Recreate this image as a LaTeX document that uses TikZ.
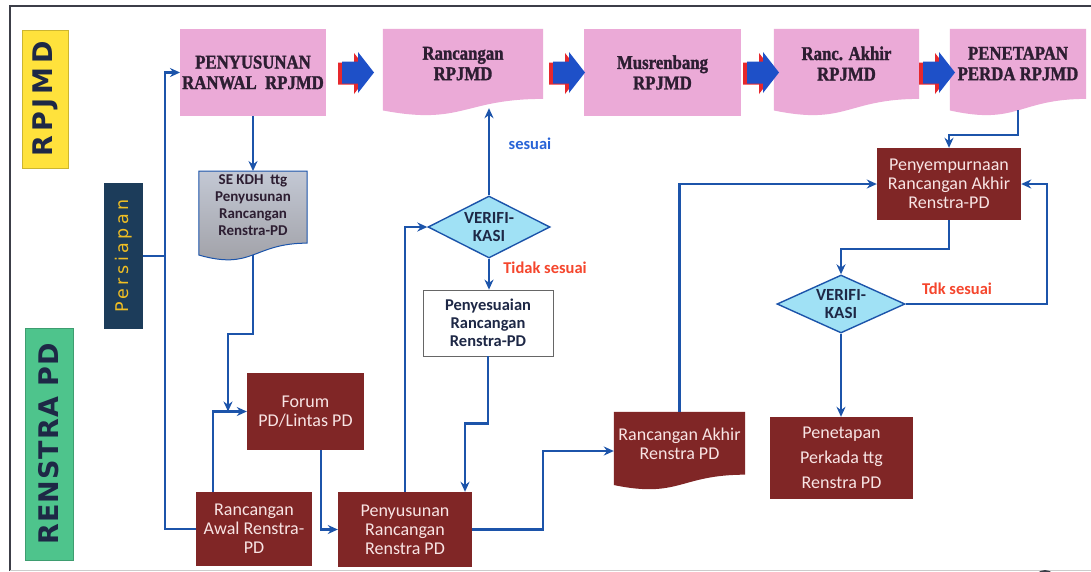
\documentclass[tikz,border=0pt]{standalone}
\usepackage{fontspec}
\setmainfont{Carlito}
\newfontfamily\pinkfont[FakeStretch=0.86, BoldFeatures={FakeBold=1.5}]{Liberation Serif}
\newfontfamily\lanefont{DejaVu Sans}
\usepackage{tikz}
\usetikzlibrary{calc}
\usetikzlibrary{shapes,arrows}
\usetikzlibrary{arrows.meta,backgrounds}

\definecolor{pinkfill}{RGB}{235,170,215}
\definecolor{pinktext}{RGB}{45,30,50}
\definecolor{darkred}{RGB}{128,38,38}
\definecolor{redtext}{RGB}{248,228,228}
\definecolor{connblue}{RGB}{28,84,170}
\definecolor{cyanfill}{RGB}{160,225,245}
\definecolor{arrowblue}{RGB}{30,80,200}
\definecolor{arrowred}{RGB}{230,40,45}
\definecolor{yesblue}{RGB}{40,100,215}
\definecolor{nored}{RGB}{245,70,45}
\definecolor{navy}{RGB}{28,60,90}
\definecolor{laneyellow}{RGB}{255,226,60}
\definecolor{lanegreen}{RGB}{78,196,140}
\definecolor{lanetext}{RGB}{30,40,70}
\definecolor{prepyellow}{RGB}{240,190,35}
\definecolor{graytop}{RGB}{195,200,212}
\definecolor{graybottom}{RGB}{158,158,164}
\definecolor{framegray}{RGB}{60,62,72}

% document outline with a wavy bottom, around a named node
\newcommand{\docpath}[1]{(#1.north west) -- (#1.north east)
  -- ($(#1.north east)!0.802!(#1.south east)$)
  .. controls ($(#1.north)!0.802!(#1.south)$) and ($(#1.north)!1.1075!(#1.south)$)
  .. ($(#1.north west)!0.934!(#1.south west)$) -- cycle}

\begin{document}
\begin{tikzpicture}[x=1pt,y=-1pt,>={Stealth[length=10pt,width=9pt]},
    pinknode/.style={rectangle, minimum height=87, inner sep=2pt, align=center, text=pinktext, font=\pinkfont\bfseries\fontsize{19.5}{20.5}\selectfont},
    rednode/.style={rectangle, inner sep=2pt, align=center, text=redtext, font=\fontsize{18}{19}\selectfont},
    decisionnode/.style={diamond, aspect=2, fill=cyanfill, draw=connblue, line width=1.4pt, inner sep=0pt, align=center, text=lanetext, font=\bfseries\fontsize{17}{17.5}\selectfont},
    lanenode/.style={rectangle, rotate=90, draw=#1!80!black, fill=#1, line width=0.8pt, text=lanetext, font=\lanefont\bfseries\fontsize{27}{30}\selectfont},
    flowline/.style={draw=connblue, line width=2.2pt},
    labeltext/.style={font=\bfseries\fontsize{16.5}{18}\selectfont, text=#1}
    ]
  \useasboundingbox (0,0) rectangle (1091,571);
  \begin{scope}[on background layer]
    \fill[white] (0,0) rectangle (1091,571);
  \end{scope}
  % frame
  \draw[framegray, line width=2.5pt] (10,571) -- (10,6) -- (1091,6);
  \draw[gray!40, line width=0.8pt] (10,570) -- (1091,570);
  \fill[framegray] (1045,581) circle (11);

  % lanes
  \node[lanenode=laneyellow, minimum width=138, minimum height=46] (LaneRPJMD) at (45,99) {\addfontfeature{LetterSpace=14}RPJMD};
  \node[lanenode=lanegreen, minimum width=232, minimum height=48] (LaneRenstra) at (49,444) {\addfontfeature{LetterSpace=4}RENSTRA PD};
  \node[rectangle, rotate=90, fill=navy, text=prepyellow, minimum width=146, minimum height=39, font=\lanefont\fontsize{17.5}{20}\selectfont] (Persiapan) at (123.5,256) {\addfontfeature{LetterSpace=20}Persiapan};

  % nodes RPJMD
  \node[pinknode, fill=pinkfill, minimum width=134] (PenyusunanRanwal) at (253,72.5) {PENYUSUNAN\\RANWAL~ RPJMD};
  \node[pinknode, minimum width=160, text depth=18pt] (RancanganRPJMD) at (463,72.5) {Rancangan\\RPJMD};
  \node[pinknode, fill=pinkfill, minimum width=157] (Musrenbang) at (662.5,72.5) {Musrenbang\\RPJMD};
  \node[pinknode, minimum width=145, text depth=18pt] (RancAkhirRPJMD) at (846.5,72.5) {Ranc. Akhir\\RPJMD};
  \node[pinknode, minimum width=136, text depth=18pt] (PenetapanPerda) at (1018,72.5) {PENETAPAN\\PERDA RPJMD};
  % block arrows between the stages
  \foreach \ax in {358,569,763,939} {
    \fill[arrowred, shift={(-4,1)}] (\ax-16,61.5) -- (\ax,61.5) -- (\ax,52) -- (\ax+16,72.5) -- (\ax,93) -- (\ax,83.5) -- (\ax-16,83.5) -- cycle;
    \fill[arrowblue] (\ax-16,61.5) -- (\ax,61.5) -- (\ax,52) -- (\ax+16,72.5) -- (\ax,93) -- (\ax,83.5) -- (\ax-16,83.5) -- cycle;
  }

  % nodes RENSTRA PD
  \node[rectangle, minimum width=108, minimum height=88, text depth=22pt, align=center, text=pinktext, font=\bfseries\fontsize{15}{17}\selectfont] (SEKDH) at (253,216) {SE KDH~ ttg\\Penyusunan\\Rancangan\\Renstra-PD};
  \node[decisionnode, minimum width=122, minimum height=62] (Verif1) at (489,227) {VERIFI-\\KASI};
  \node[rectangle, draw=gray!80!black, line width=0.8pt, fill=white, minimum width=130, minimum height=66, align=center, text=lanetext, font=\bfseries\fontsize{16.5}{18}\selectfont] (Penyesuaian) at (488,323) {Penyesuaian\\Rancangan\\Renstra-PD};
  \node[rednode, fill=darkred, minimum width=117, minimum height=77] (Forum) at (305.5,411.5) {Forum\\PD/Lintas PD};
  \node[rednode, fill=darkred, minimum width=116, minimum height=74] (RancanganAwal) at (254,529) {Rancangan\\Awal Renstra-\\PD};
  \node[rednode, fill=darkred, minimum width=134, minimum height=75] (PenyusunanRenstra) at (405,529.5) {Penyusunan\\Rancangan\\Renstra PD};
  \node[rednode, minimum width=131, minimum height=78, text depth=14pt] (RancAkhirRenstra) at (679.5,451) {Rancangan Akhir\\Renstra PD};
  \node[rednode, fill=darkred, minimum width=144, minimum height=72] (Penyempurnaan) at (949,184) {Penyempurnaan\\Rancangan Akhir\\Renstra-PD};
  \node[decisionnode, minimum width=128, minimum height=58] (Verif2) at (841,304) {VERIFI-\\KASI};
  \node[rednode, fill=darkred, minimum width=143, minimum height=82, font=\fontsize{18}{25}\selectfont] (PenetapanPerkada) at (841.5,458) {Penetapan\\Perkada ttg\\Renstra PD};
  \node[labeltext=yesblue] (Sesuai) at (530,144) {sesuai};
  \node[labeltext=nored] (TidakSesuai) at (545,268) {Tidak sesuai};
  \node[labeltext=nored] (TdkSesuai) at (957,289) {Tdk sesuai};

  % document shapes
  \begin{scope}[on background layer]
    \fill[pinkfill] \docpath{RancanganRPJMD};
    \fill[pinkfill] \docpath{RancAkhirRPJMD};
    \fill[pinkfill] \docpath{PenetapanPerda};
    \shade[top color=graytop, bottom color=graybottom] \docpath{SEKDH};
    \draw[connblue, line width=1pt] \docpath{SEKDH};
    \fill[darkred] \docpath{RancAkhirRenstra};
  \end{scope}

  % arrows
  \coordinate (LeftBus) at (165,72.5);
  \coordinate (ForumJoin) at (228,411.5);
  \draw[flowline] (Persiapan.south) -- (Persiapan.south -| LeftBus);
  \draw[flowline,->] (RancanganAwal.west) -| (LeftBus) -- (PenyusunanRanwal.west);
  \draw[flowline,->] (PenyusunanRanwal.south) -- (SEKDH.north);
  \draw[flowline,->] ($(SEKDH.south)+(0,-6)$) -- ++(0,79) -| (ForumJoin);
  \draw[flowline,->] ($(RancanganAwal.north west)+(17,0)$) |- (Forum.west);
  \draw[flowline,->] ($(Forum.south)+(15.5,0)$) |- (PenyusunanRenstra.west);
  \draw[flowline,->] (PenyusunanRenstra.north) |- (Verif1.west);
  \draw[flowline,->] (Verif1.north) -- ($(Verif1.north |- RancanganRPJMD.south)+(0,-8)$);
  \draw[flowline,->] (Verif1.south) -- (Verif1.south |- Penyesuaian.north);
  \draw[flowline,->] (Penyesuaian.south) -- ++(0,67) -| ($(PenyusunanRenstra.north)+(60,0)$);
  \draw[flowline,->] (PenyusunanRenstra.east) -- ++(71,0) |- (RancAkhirRenstra.west);
  \draw[flowline,->] (RancAkhirRenstra.north) |- (Penyempurnaan.west);
  \draw[flowline,->] ($(PenetapanPerda.south)+(0,-6)$) -- ++(0,25) -| (Penyempurnaan.north);
  \draw[flowline,->] (Penyempurnaan.south) -- ++(0,29) -| (Verif2.north);
  \draw[flowline,->] (Verif2.east) -- ++(141,0) |- (Penyempurnaan.east);
  \draw[flowline,->] (Verif2.south) -- (Verif2.south |- PenetapanPerkada.north);
\end{tikzpicture}
\end{document}
